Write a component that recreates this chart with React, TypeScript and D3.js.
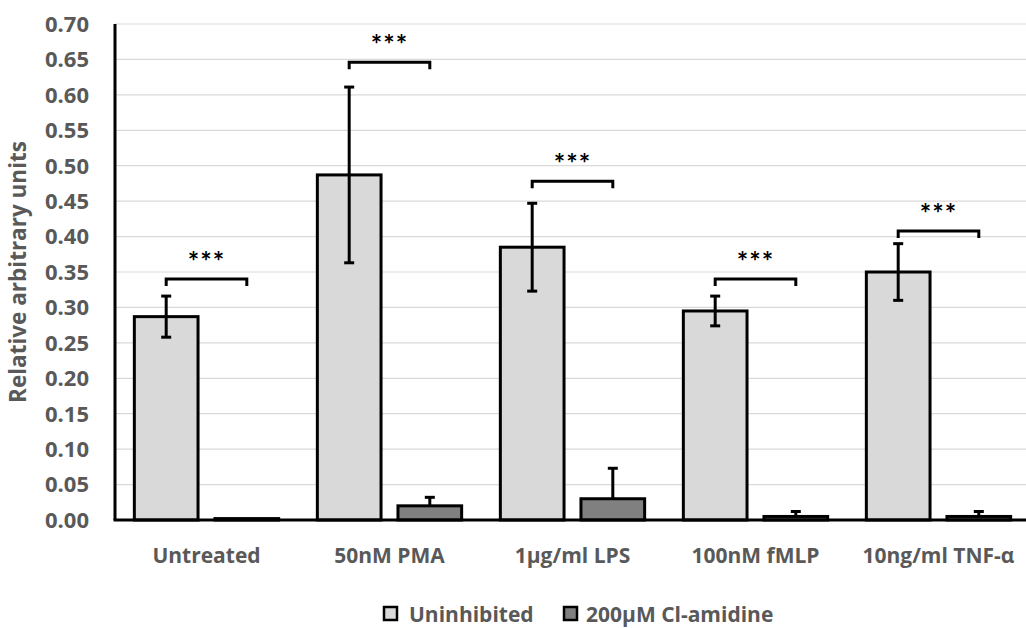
import React from "react";
import * as d3 from "d3";

const categories = ["Untreated", "50nM PMA", "1µg/ml LPS", "100nM fMLP", "10ng/ml TNF-α"];
const seriesNames = ["Uninhibited", "200µM Cl-amidine"];
const uninhibited = [0.287, 0.487, 0.385, 0.295, 0.350];
const uninhibitedErr = [0.029, 0.124, 0.062, 0.021, 0.040];
const clAmidine = [0.002, 0.020, 0.030, 0.005, 0.005];
const clAmidineErr = [0.0, 0.012, 0.043, 0.007, 0.007];
const bracketLevels = [0.34, 0.646, 0.478, 0.34, 0.408];
const significance = ["***", "***", "***", "***", "***"];
const yTicks = [0, 0.05, 0.1, 0.15, 0.2, 0.25, 0.3, 0.35, 0.4, 0.45, 0.5, 0.55, 0.6, 0.65, 0.7];
const yTitle = "Relative arbitrary units";

const W = 1026;
const H = 628;
const FONT = "'Open Sans', Lato, sans-serif";
const STAR_FONT = "Lato, 'Open Sans', sans-serif";
const TEXT = "#595959";
const fills = ["#d9d9d9", "#808080"];

export default function App() {
  const left = 115;
  const right = 1030;
  const top = 24;
  const bottom = 520;

  const x0 = d3.scaleBand<string>().domain(categories).range([left, right]).paddingInner(0).paddingOuter(0);
  const x1 = d3
    .scaleBand<string>()
    .domain(seriesNames)
    .range([0, x0.bandwidth()])
    .paddingInner(0.21)
    .paddingOuter(0.24);
  const y = d3.scaleLinear().domain([0, 0.7]).range([bottom, top]);

  const series = [
    { name: seriesNames[0], values: uninhibited, err: uninhibitedErr, fill: fills[0], both: true },
    { name: seriesNames[1], values: clAmidine, err: clAmidineErr, fill: fills[1], both: false },
  ];
  const bw = x1.bandwidth();
  const cap = 5;

  return (
    <svg
      width={W}
      height={H}
      style={{ position: "absolute", left: 0, top: 0, background: "#fff" }}
      fontFamily={FONT}
    >
      {/* gridlines */}
      {yTicks.map((t) => (
        <line key={"g" + t} x1={left} x2={W} y1={y(t)} y2={y(t)} stroke="#d9d9d9" strokeWidth={1.2} />
      ))}
      {/* y tick labels */}
      {yTicks.map((t) => (
        <text
          key={"t" + t}
          x={89}
          y={y(t)}
          dy="0.36em"
          textAnchor="end"
          fontSize={22}
          fontWeight={700}
          fill={TEXT}
        >
          {t.toFixed(2)}
        </text>
      ))}
      {/* y title */}
      <text
        transform={`translate(26, ${(top + bottom) / 2}) rotate(-90)`}
        textAnchor="middle"
        fontSize={22.5}
        fontWeight={700}
        fill={TEXT}
      >
        {yTitle}
      </text>

      {/* bars */}
      {categories.map((c, i) => (
        <g key={c}>
          {series.map((s) => {
            const bx = (x0(c) as number) + (x1(s.name) as number);
            const v = s.values[i];
            const yt = y(v);
            return (
              <rect
                key={s.name}
                x={bx}
                y={yt}
                width={bw}
                height={Math.max(0, bottom - yt)}
                fill={s.fill}
                stroke="#000"
                strokeWidth={3}
              />
            );
          })}
        </g>
      ))}
      {/* error bars */}
      {categories.map((c, i) => (
        <g key={"e" + c}>
          {series.map((s) => {
            const cx = (x0(c) as number) + (x1(s.name) as number) + bw / 2;
            const v = s.values[i];
            const e = s.err[i];
            if (e <= 0) return null;
            const hi = y(v + e);
            const lo = s.both ? y(Math.max(0, v - e)) : y(v);
            return (
              <g key={s.name} stroke="#000" strokeWidth={3}>
                <line x1={cx} x2={cx} y1={hi} y2={lo} />
                <line x1={cx - cap} x2={cx + cap} y1={hi} y2={hi} />
                {s.both && <line x1={cx - cap} x2={cx + cap} y1={lo} y2={lo} />}
              </g>
            );
          })}
        </g>
      ))}
      {/* significance brackets */}
      {categories.map((c, i) => {
        const xa = (x0(c) as number) + (x1(seriesNames[0]) as number) + bw / 2;
        const xb = (x0(c) as number) + (x1(seriesNames[1]) as number) + bw / 2;
        const yb = y(bracketLevels[i]);
        return (
          <g key={"b" + c}>
            <path
              d={`M${xa},${yb + 7} L${xa},${yb} L${xb},${yb} L${xb},${yb + 7}`}
              fill="none"
              stroke="#000"
              strokeWidth={3}
            />
            <text
              x={(xa + xb) / 2}
              y={yb - 8}
              textAnchor="middle"
              fontFamily={STAR_FONT}
              fontSize={27}
              fontWeight={700}
              fill="#000"
              letterSpacing={1}
            >
              {significance[i]}
            </text>
          </g>
        );
      })}
      {/* axes */}
      <line x1={left} x2={left} y1={top} y2={bottom} stroke="#000" strokeWidth={3} />
      <line x1={left - 1.5} x2={W} y1={bottom} y2={bottom} stroke="#000" strokeWidth={3} />

      {/* x labels */}
      {categories.map((c) => (
        <text
          key={"x" + c}
          x={(x0(c) as number) + x0.bandwidth() / 2}
          y={563}
          textAnchor="middle"
          fontSize={21}
          fontWeight={700}
          fill={TEXT}
        >
          {c}
        </text>
      ))}

      {/* legend */}
      <g>
        <rect x={384} y={607} width={13} height={13} fill={fills[0]} stroke="#000" strokeWidth={2.5} />
        <text x={409} y={622} fontSize={21} fontWeight={700} fill={TEXT}>
          {seriesNames[0]}
        </text>
        <rect x={564} y={607} width={13} height={13} fill={fills[1]} stroke="#000" strokeWidth={2.5} />
        <text x={586} y={622} fontSize={21} fontWeight={700} fill={TEXT}>
          {seriesNames[1]}
        </text>
      </g>
    </svg>
  );
}
